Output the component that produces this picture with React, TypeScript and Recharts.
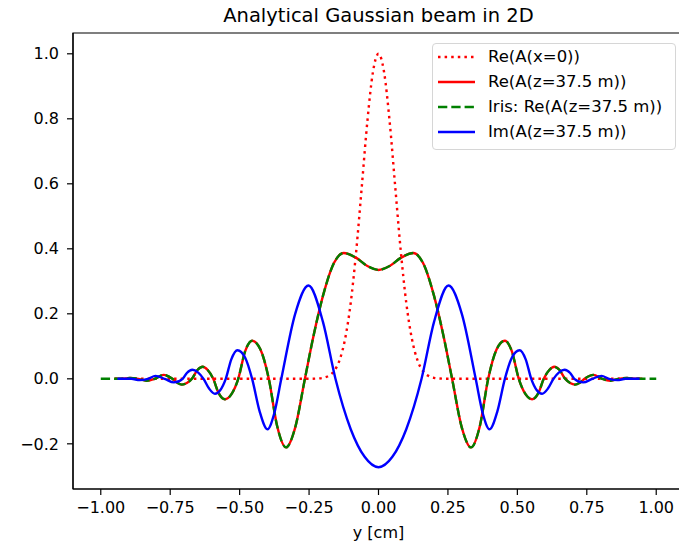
import { Legend, Line, LineChart, ReferenceArea, XAxis, YAxis } from "recharts";

// Analytical Gaussian beam in 2D: start field, propagated field (re/im) and iris version
// values, x = y [cm]

const gaussX = [-0.95, -0.25, -0.22, -0.2, -0.18, -0.16, -0.14, -0.12, -0.1, -0.08, -0.06, -0.04, -0.02, 0, 0.02, 0.04, 0.06, 0.08, 0.1, 0.12, 0.14, 0.16, 0.18, 0.2, 0.22, 0.25, 0.95];
const gaussV = [0, 0, 0.001, 0.003, 0.009, 0.024, 0.058, 0.124, 0.234, 0.395, 0.593, 0.793, 0.944, 1, 0.944, 0.793, 0.593, 0.395, 0.234, 0.124, 0.058, 0.024, 0.009, 0.003, 0.001, 0, 0];

const reZX = [-0.95, -0.925, -0.895, -0.865, -0.835, -0.805, -0.774, -0.742, -0.725, -0.708, -0.69, -0.672, -0.652, -0.633, -0.615, -0.595, -0.575, -0.553, -0.53, -0.505, -0.48, -0.455, -0.425, -0.395, -0.365, -0.333, -0.3, -0.265, -0.235, -0.2, -0.16, -0.125, -0.08, -0.04, 0, 0.04, 0.08, 0.125, 0.16, 0.2, 0.235, 0.265, 0.3, 0.333, 0.365, 0.395, 0.425, 0.455, 0.48, 0.505, 0.53, 0.553, 0.575, 0.595, 0.615, 0.633, 0.652, 0.672, 0.69, 0.708, 0.725, 0.742, 0.774, 0.805, 0.835, 0.865, 0.895, 0.925, 0.95];
const reZV = [0, 0, 0.003, 0, -0.006, 0, 0.012, 0, -0.012, -0.018, -0.013, 0, 0.027, 0.037, 0.027, 0, -0.045, -0.063, -0.048, 0, 0.085, 0.117, 0.09, 0, -0.145, -0.211, -0.15, 0, 0.128, 0.255, 0.357, 0.387, 0.372, 0.347, 0.335, 0.347, 0.372, 0.387, 0.357, 0.255, 0.128, 0, -0.15, -0.211, -0.145, 0, 0.09, 0.117, 0.085, 0, -0.048, -0.063, -0.045, 0, 0.027, 0.037, 0.027, 0, -0.013, -0.018, -0.012, 0, 0.012, 0, -0.006, 0, 0.003, 0, 0];

// iris result is the same field, drawn over the full -1..1 range
const irisX = [-1, ...reZX, 1];
const irisV = [0, ...reZV, 0];

const imX = [-0.94, -0.89, -0.86, -0.83, -0.803, -0.77, -0.737, -0.705, -0.69, -0.67, -0.65, -0.63, -0.61, -0.589, -0.57, -0.55, -0.53, -0.508, -0.48, -0.455, -0.428, -0.4, -0.375, -0.35, -0.3, -0.252, -0.2, -0.155, -0.1, -0.05, 0, 0.05, 0.1, 0.155, 0.2, 0.252, 0.3, 0.35, 0.375, 0.4, 0.428, 0.455, 0.48, 0.508, 0.53, 0.55, 0.57, 0.589, 0.61, 0.63, 0.65, 0.67, 0.69, 0.705, 0.737, 0.77, 0.803, 0.83, 0.86, 0.89, 0.94];
const imV = [0, 0, -0.004, 0, 0.009, 0, -0.011, 0, 0.018, 0.028, 0.02, 0, -0.03, -0.046, -0.035, 0, 0.06, 0.088, 0.065, 0, -0.1, -0.155, -0.105, 0, 0.2, 0.287, 0.175, 0, -0.155, -0.24, -0.272, -0.24, -0.155, 0, 0.175, 0.287, 0.2, 0, -0.105, -0.155, -0.1, 0, 0.065, 0.088, 0.06, 0, -0.035, -0.046, -0.03, 0, 0.02, 0.028, 0.018, 0, -0.011, 0, 0.009, 0, -0.004, 0, 0];

const xTicks = [-1, -0.75, -0.5, -0.25, 0, 0.25, 0.5, 0.75, 1];
const yTicks = [-0.2, 0, 0.2, 0.4, 0.6, 0.8, 1.0];
const legendNames = ["Re(A(x=0))", "Re(A(z=37.5 m))", "Iris: Re(A(z=37.5 m))", "Im(A(z=37.5 m))"];
const title = "Analytical Gaussian beam in 2D";

const X_DOMAIN: [number, number] = [-1.1, 1.1];
const Y_DOMAIN: [number, number] = [-0.339, 1.064];

const pts = (xs: number[], vs: number[]) => xs.map((x, i) => ({ x, v: vs[i] }));
const minus = (s: string) => s.replace("-", "\u2212");

const FONT = "'DejaVu Sans', sans-serif";
const DOT = "2.5 4.1";
const DASH = "9.3 4";
const lineStyles = [
  { stroke: "red", dash: DOT },
  { stroke: "red", dash: undefined },
  { stroke: "green", dash: DASH },
  { stroke: "blue", dash: undefined },
];

function LegendBox() {
  return (
    <div
      style={{
        position: "relative",
        boxSizing: "border-box",
        width: 244,
        height: 107,
        border: "1px solid #d6d6d6",
        borderRadius: 4,
        background: "rgba(255,255,255,0.8)",
        fontFamily: FONT,
        fontSize: 16.5,
        color: "#000",
      }}
    >
      {legendNames.map((name, i) => (
        <div
          key={name}
          style={{ position: "absolute", left: 5, top: 1 + i * 25, height: 24, display: "flex", alignItems: "center", whiteSpace: "nowrap" }}
        >
          <svg width={37} height={10} style={{ display: "block" }}>
            <line x1={0} x2={37} y1={5} y2={5} stroke={lineStyles[i].stroke} strokeWidth={2.4} strokeDasharray={lineStyles[i].dash} />
          </svg>
          <span style={{ marginLeft: 13, lineHeight: 1 }}>{name}</span>
        </div>
      ))}
    </div>
  );
}

export default function App() {
  const tickStyle = { fill: "#000", fontSize: 16, fontFamily: FONT };
  return (
    <div style={{ position: "relative", width: 679, height: 534, fontFamily: FONT }}>
      <div
        style={{
          position: "absolute",
          left: 65,
          width: 611,
          top: -2,
          textAlign: "center",
          fontSize: 19.5,
          lineHeight: 1,
          color: "#000",
          whiteSpace: "nowrap",
          zIndex: 1,
        }}
      >
        {title}
      </div>
      <LineChart width={679} height={534} margin={{ top: 25, right: 3, bottom: 0, left: 0 }} style={{ fontFamily: FONT }}>
        <XAxis
          type="number"
          dataKey="x"
          domain={X_DOMAIN}
          ticks={xTicks}
          tickFormatter={(v: number) => minus(v.toFixed(2))}
          allowDataOverflow
          height={53}
          tickSize={6}
          tickMargin={7}
          tick={tickStyle}
          tickLine={{ stroke: "#000", strokeWidth: 1.2 }}
          axisLine={{ stroke: "#000", strokeWidth: 1.2 }}
          label={{ value: "y [cm]", position: "insideBottom", offset: 4, fontSize: 16, fill: "#000", fontFamily: FONT }}
        />
        <YAxis
          type="number"
          domain={Y_DOMAIN}
          ticks={yTicks}
          tickFormatter={(v: number) => minus(v.toFixed(1))}
          allowDataOverflow
          width={65}
          tickSize={6}
          tickMargin={8}
          tick={tickStyle}
          tickLine={{ stroke: "#000", strokeWidth: 1.2 }}
          axisLine={{ stroke: "#000", strokeWidth: 1.2 }}
        />
        {/* axes frame (matplotlib box) */}
        <ReferenceArea
          x1={X_DOMAIN[0]}
          x2={X_DOMAIN[1]}
          y1={Y_DOMAIN[0]}
          y2={Y_DOMAIN[1]}
          fill="none"
          fillOpacity={0}
          stroke="#000"
          strokeWidth={1.2}
          ifOverflow="visible"
        />
        <Legend
          layout="horizontal"
          align="center"
          verticalAlign="middle"
          wrapperStyle={{ left: 424, top: 35, width: 244, height: 107 }}
          content={() => <LegendBox />}
        />
        <Line data={pts(gaussX, gaussV)} dataKey="v" type="monotone" stroke="red" strokeWidth={2.4} strokeDasharray={DOT} dot={false} isAnimationActive={false} />
        <Line data={pts(reZX, reZV)} dataKey="v" type="monotone" stroke="red" strokeWidth={2.4} dot={false} isAnimationActive={false} />
        <Line data={pts(irisX, irisV)} dataKey="v" type="monotone" stroke="green" strokeWidth={2.4} strokeDasharray={DASH} dot={false} isAnimationActive={false} />
        <Line data={pts(imX, imV)} dataKey="v" type="monotone" stroke="blue" strokeWidth={2.4} dot={false} isAnimationActive={false} />
      </LineChart>
    </div>
  );
}
